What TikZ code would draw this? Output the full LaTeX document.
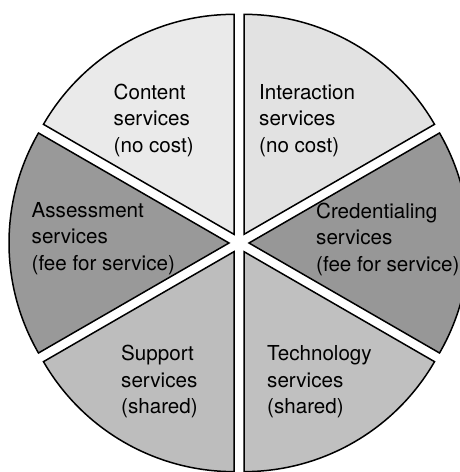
\documentclass[tikz,border=0pt]{standalone}
\usepackage{fontspec}
\setmainfont{TeX Gyre Heros}
\usetikzlibrary{calc}
\begin{document}
\begin{tikzpicture}[x=1pt,y=1pt,
  slice/.style={draw=black, line width=1.5pt, line join=miter},
  lbl/.style={anchor=base west, align=left, inner sep=0pt, text=black,
    font=\fontsize{20.6}{26.7}\selectfont}]
\useasboundingbox (0,0) rectangle (460,472);
\clip (0,0) rectangle (460,472);
\coordinate (C) at (239,229);
\def\R{220}
\def\d{10}
\definecolor{cContent}{HTML}{EAEAEA}
\definecolor{cInter}{HTML}{E2E2E2}
\definecolor{cCred}{HTML}{979797}
\definecolor{cTech}{HTML}{C0C0C0}
\definecolor{cSupp}{HTML}{BDBDBD}
\definecolor{cAssess}{HTML}{999999}
\foreach \a/\col in {90/cContent, 30/cInter, -30/cCred, -90/cTech, 210/cSupp, 150/cAssess}{
  \pgfmathsetmacro{\b}{\a+30}
  \pgfmathsetmacro{\e}{\a+60}
  \draw[slice, fill=\col] ($(C)+(\b:\d)$) -- ++(\a:\R)
    arc[start angle=\a, end angle=\e, radius=\R] -- cycle;
}
\node[lbl] (content) at (113.5,319.5) {Content\\services\\(no cost)};
\node[lbl] (interaction) at (259,319.5) {Interaction\\services\\(no cost)};
\node[lbl] (assessment) at (31.5,201.5) {Assessment\\services\\(fee for service)};
\node[lbl] (credentialing) at (316,200.3) {Credentialing\\services\\(fee for service)};
\node[lbl] (support) at (121,58) {Support\\services\\(shared)};
\node[lbl] (technology) at (267,58) {Technology\\services\\(shared)};
\end{tikzpicture}
\end{document}
